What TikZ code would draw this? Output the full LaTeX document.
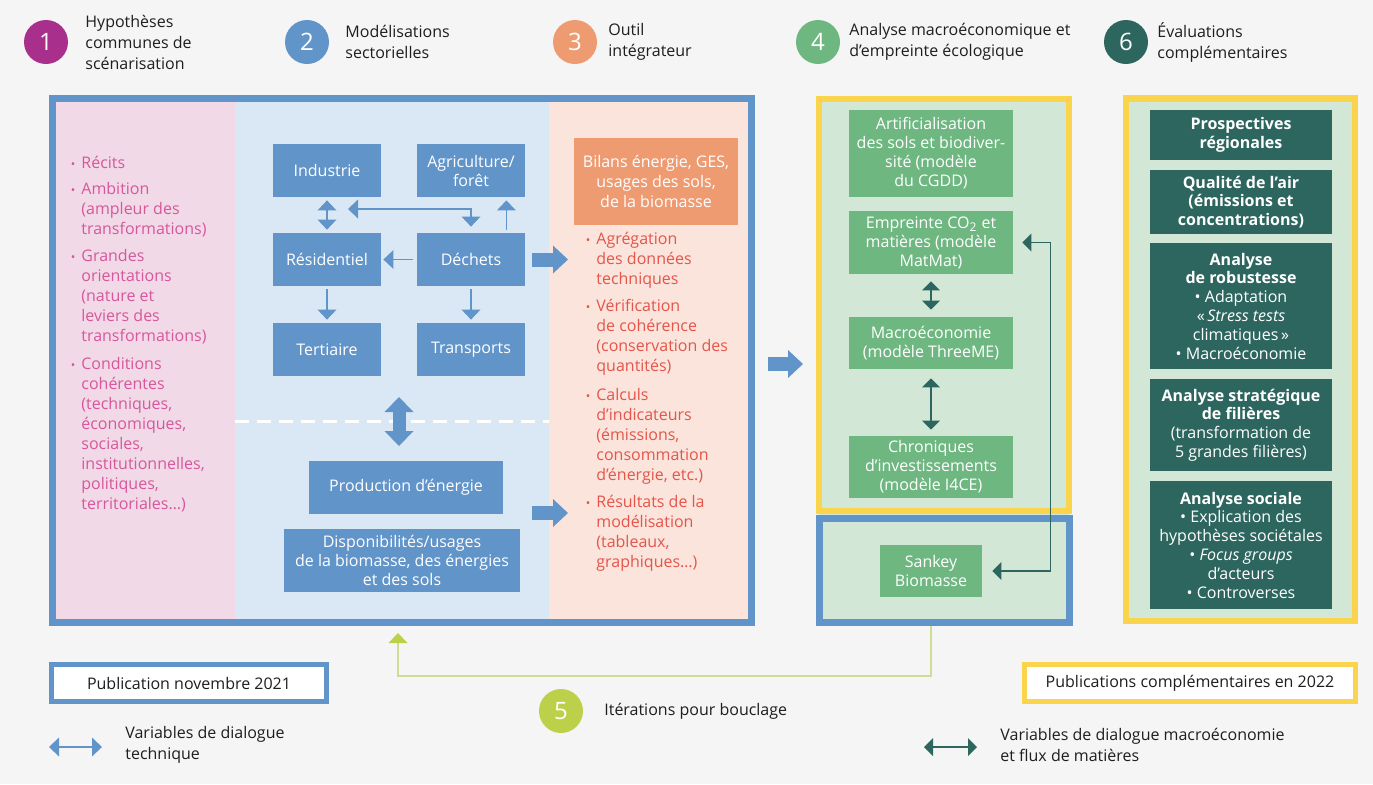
\documentclass[tikz,border=0pt]{standalone}
\usepackage{fontspec}
\setmainfont{Open Sans}
\usetikzlibrary{arrows.meta,positioning}

\definecolor{bgpage}{HTML}{F5F5F5}
\definecolor{purple1}{HTML}{A8308C}
\definecolor{secblue}{HTML}{6194C9}
\definecolor{orange3}{HTML}{EF9B72}
\definecolor{green4}{HTML}{6FB781}
\definecolor{teal6}{HTML}{2D665F}
\definecolor{lime5}{HTML}{BDD049}
\definecolor{limeline}{HTML}{CEDD96}
\definecolor{pinkbg}{HTML}{F2D9E7}
\definecolor{pinktxt}{HTML}{D6579C}
\definecolor{bluebg}{HTML}{DAE7F4}
\definecolor{peachbg}{HTML}{FBE4DB}
\definecolor{redtxt}{HTML}{E4554B}
\definecolor{greenbg}{HTML}{D2E7D5}
\definecolor{yellowfr}{HTML}{FAD44C}
\definecolor{inktxt}{HTML}{1E1E1E}

\newcommand{\puce}{\llap{\fontsize{6}{6}\selectfont•\hspace{3pt}}}

\tikzset{
  numdisc/.style={circle, minimum size=22pt, inner sep=0pt, text=white,
    font=\fontsize{12}{12}\selectfont},
  headtxt/.style={anchor=west, align=left, inner sep=0pt, text=inktxt,
    font=\fontsize{8}{10.5}\selectfont},
  sectbox/.style={fill=secblue, text=white, align=center, inner sep=0pt,
    minimum width=54pt, minimum height=26.5pt, font=\fontsize{8}{9.5}\selectfont},
  bilanbox/.style={fill=orange3, text=white, align=center, inner sep=0pt,
    minimum width=82pt, minimum height=43.5pt, font=\fontsize{8}{10}\selectfont},
  macrobox/.style={fill=green4, text=white, align=center, inner sep=0pt,
    minimum width=82pt, font=\fontsize{8}{9.5}\selectfont},
  evalbox/.style={fill=teal6, text=white, align=center, inner sep=0pt,
    minimum width=91pt, font=\fontsize{8}{9.4}\selectfont},
  pinkitem/.style={anchor=west, align=left, inner sep=0pt, text=pinktxt,
    font=\fontsize{8}{10}\selectfont},
  reditem/.style={pinkitem, text=redtxt},
  legbox/.style={fill=white, line width=2.5pt, minimum width=137.5pt,
    minimum height=18.5pt, inner sep=0pt, text=inktxt, font=\fontsize{8}{10}\selectfont},
  techarrow/.style={secblue, line width=0.8pt, -{Triangle[width=9.5pt,length=5pt,line width=0pt]}},
  techboth/.style={secblue, line width=0.8pt,
    {Triangle[width=9.5pt,length=5pt,line width=0pt]}-{Triangle[width=9.5pt,length=5pt,line width=0pt]}},
  fatarrow/.style={secblue, line width=7pt, -{Triangle[width=14pt,length=7.5pt,line width=0pt]}},
  fatboth/.style={secblue, line width=6.5pt,
    {Triangle[width=14.5pt,length=7.5pt,line width=0pt]}-{Triangle[width=14.5pt,length=7.5pt,line width=0pt]}},
  macroboth/.style={teal6, line width=0.6pt,
    {Triangle[width=9pt,length=4.5pt,line width=0pt]}-{Triangle[width=9pt,length=4.5pt,line width=0pt]}},
  looparrow/.style={limeline, line width=1pt, -{Triangle[width=9.5pt,length=5pt,line width=0pt,color=lime5]}}
}

\begin{document}
\begin{tikzpicture}[x=0.5pt, y=-0.5pt]
  \useasboundingbox (0,0) rectangle (1373,784);
  \fill[bgpage] (0,0) rectangle (1373,784);

  % header
  \node[numdisc, fill=purple1] (n1) at (46,42) {1};
  \node[headtxt] (t1) at (85,42) {Hypothèses\\communes de\\scénarisation};
  \node[numdisc, fill=secblue] (n2) at (307,42) {2};
  \node[headtxt] (t2) at (345,42) {Modélisations\\sectorielles};
  \node[numdisc, fill=orange3] (n3) at (575,42) {3};
  \node[headtxt] (t3) at (608,42) {Outil\\intégrateur};
  \node[numdisc, fill=green4] (n4) at (818,42) {4};
  \node[headtxt] (t4) at (849,42) {Analyse macroéconomique et\\d’empreinte écologique};
  \node[numdisc, fill=teal6] (n6) at (1126,42) {6};
  \node[headtxt] (t6) at (1157,42) {Évaluations\\complémentaires};

  % main frame
  \fill[pinkbg] (55,101) rectangle (235,619);
  \fill[bluebg] (235,101) rectangle (549,619);
  \fill[peachbg] (549,101) rectangle (749,619);
  \draw[white, line width=1.5pt, dash pattern=on 7pt off 4pt] (235,421) -- (549,421);
  \draw[secblue, line width=3.5pt] (52.5,98.5) rectangle (751.5,622);

  % panels 4 and 6
  \fill[greenbg] (819,99) rectangle (1069,622);
  \draw[secblue, line width=3.5pt] (819,518.5) rectangle (1069,622);
  \draw[yellowfr, line width=3pt] (819,99) rectangle (1069,511);
  \fill[greenbg] (1126,98.5) rectangle (1355,621);
  \draw[yellowfr, line width=3.25pt] (1126,98.5) rectangle (1355,621);

  \node[pinkitem] (p1) at (81,162) {\puce Récits};
  \node[pinkitem] (p2) at (81,210) {\puce Ambition\\(ampleur des\\transformations)};
  \node[pinkitem] (p3) at (81,297) {\puce Grandes\\orientations\\(nature et\\leviers des\\transformations)};
  \node[pinkitem] (p4) at (81,435) {\puce Conditions\\cohérentes\\(techniques,\\économiques,\\sociales,\\institutionnelles,\\politiques,\\territoriales…)};

  \node[sectbox] (ind) at (327,170.5) {Industrie};
  \node[sectbox] (agr) at (471,170.5) {Agriculture/\\forêt};
  \node[sectbox] (res) at (327,259.5) {Résidentiel};
  \node[sectbox] (dec) at (471,259.5) {Déchets};
  \node[sectbox] (ter) at (327,349.5) {Tertiaire};
  \node[sectbox] (tra) at (471,349.5) {Transports};
  \node[sectbox, minimum width=97pt] (pro) at (406,487.5) {Production d’énergie};
  \node[sectbox, minimum width=118pt, minimum height=31.5pt] (dis) at (402,560.5)
    {Disponibilités/usages\\de la biomasse, des énergies\\et des sols};

  \node[bilanbox] (bil) at (656,181.5) {Bilans énergie, GES,\\usages des sols,\\de la biomasse};
  \node[reditem] (r1) at (596,260.5) {\puce Agrégation\\des données\\techniques};
  \node[reditem] (r2) at (596,337.5) {\puce Vérification\\de cohérence\\(conservation des\\quantités)};
  \node[reditem] (r3) at (596,436) {\puce Calculs\\d’indicateurs\\(émissions,\\consommation\\d’énergie, etc.)};
  \node[reditem] (r4) at (596,533) {\puce Résultats de la\\modélisation\\(tableaux,\\graphiques…)};

  \node[macrobox, minimum height=43.5pt] (art) at (931,153.5)
    {Artificialisation\\des sols et biodiver-\\sité (modèle\\du CGDD)};
  \node[macrobox, minimum height=31.5pt] (emp) at (931,242.5)
    {Empreinte CO\textsubscript{2} et\\matières (modèle\\MatMat)};
  \node[macrobox, minimum height=26pt] (mac) at (931,343) {Macroéconomie\\(modèle ThreeME)};
  \node[macrobox, minimum height=31pt] (chr) at (931,467)
    {Chroniques\\d’investissements\\(modèle I4CE)};
  \node[macrobox, minimum width=51pt, minimum height=26pt] (san) at (931,571) {Sankey\\Biomasse};

  \node[evalbox, minimum height=25pt] (pros) at (1241,135)
    {\textbf{Prospectives}\\\textbf{régionales}};
  \node[evalbox, minimum height=32pt] (air) at (1241,202)
    {\textbf{Qualité de l’air}\\\textbf{(émissions et}\\\textbf{concentrations)}};
  \node[evalbox, minimum height=63pt] (rob) at (1241,306)
    {\textbf{Analyse}\\\textbf{de robustesse}\\• Adaptation\\«\,\textit{Stress tests}\\climatiques\,»\\• Macroéconomie};
  \node[evalbox, minimum height=46pt] (fil) at (1241,425)
    {\textbf{Analyse stratégique}\\\textbf{de filières}\\(transformation de\\5 grandes filières)};
  \node[evalbox, minimum height=64pt] (soc) at (1241,545)
    {\textbf{Analyse sociale}\\• Explication des\\hypothèses sociétales\\• \textit{Focus groups}\\d’acteurs\\• Controverses};

  % connectors
  \coordinate (hub) at (348,209);
  \coordinate (fa1) at (532,259.5);
  \coordinate (fb1) at (568,259.5);
  \coordinate (fa2) at (532,513);
  \coordinate (fb2) at (568,513);
  \coordinate (fa3) at (768,364);
  \coordinate (fb3) at (803,364);
  \coordinate (pa) at (399,397);
  \coordinate (pb) at (399,446);
  \coordinate (lpa) at (931,626);
  \coordinate (lpb) at (398,633);
  \begin{scope}
    \draw[techboth, shorten <=1.5pt, shorten >=1.5pt] (ind) -- (res);
    \draw[techboth, shorten >=3pt] (hub) -| (dec);
    \draw[techarrow, shorten <=1.5pt, shorten >=1.5pt] ([xshift=-9.5pt]dec.north east) -- ([xshift=-9.5pt]agr.south east);
    \draw[techarrow, shorten <=2pt, shorten >=1pt] (dec) -- (res);
    \draw[techarrow, shorten <=1.5pt, shorten >=1.5pt] (res) -- (ter);
    \draw[techarrow, shorten <=1.5pt, shorten >=1.5pt] (dec) -- (tra);
    \draw[fatboth] (pa) -- (pb);
    \draw[fatarrow] (fa1) -- (fb1);
    \draw[fatarrow] (fa2) -- (fb2);
    \draw[fatarrow] (fa3) -- (fb3);
    \draw[macroboth, shorten <=3.5pt, shorten >=3.5pt] (emp) -- (mac);
    \draw[macroboth, shorten <=4.5pt, shorten >=3pt] (mac) -- (chr);
    \draw[macroboth, shorten <=5pt, shorten >=4.5pt] (san.east) -- ++(68,0) |- (emp.east);
    \draw[looparrow] (lpa) -- ++(0,50) -| (lpb);
  \end{scope}

  % legend
  \node[legbox, draw=secblue] (pub21) at (189,683) {Publication novembre 2021};
  \node[legbox, draw=yellowfr, minimum width=165.5pt] (pub22) at (1190,683)
    {Publications complémentaires en 2022};
  \node[numdisc, fill=lime5] (n5) at (561,711) {5};
  \node[headtxt] (t5) at (604,711) {Itérations pour bouclage};
  \coordinate (la) at (49,747);
  \coordinate (lb) at (102,747);
  \coordinate (ma) at (924,747);
  \coordinate (mb) at (977,747);
  \draw[techboth] (la) -- (lb);
  \draw[macroboth] (ma) -- (mb);
  \node[headtxt] (lt1) at (125,745) {Variables de dialogue\\technique};
  \node[headtxt] (lt2) at (1000,745) {Variables de dialogue macroéconomie\\et flux de matières};
\end{tikzpicture}
\end{document}
